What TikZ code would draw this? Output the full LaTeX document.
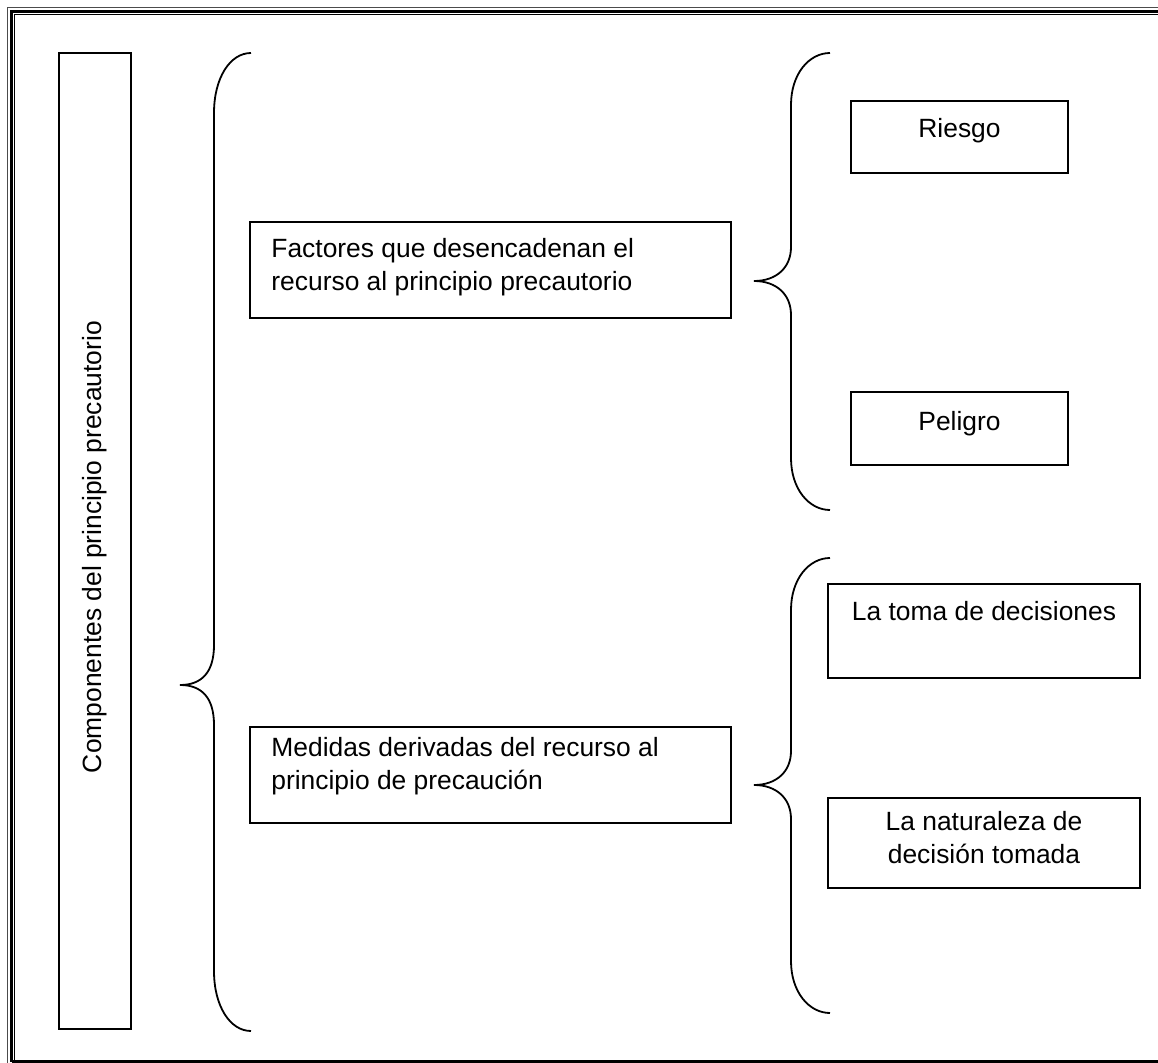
\documentclass[tikz,border=0pt]{standalone}
\usepackage{fontspec}
\setmainfont{Liberation Sans}
\usetikzlibrary{calc,fit}
\begin{document}
\begin{tikzpicture}[x=0.75pt,y=-0.75pt,
  box/.style={draw,line width=1.7*0.75pt,inner sep=0pt,rectangle},
  brace/.style={draw,line width=1.8*0.75pt},
  lbl/.style={inner sep=0pt,font=\fontsize{19.8pt}{24.4pt}\selectfont},
]
\useasboundingbox (0,0) rectangle (1158,1063);
% page border, cut off on the right and at the bottom
\begin{scope}
\clip (0,0) rectangle (1158,1063);
\draw[line width=1.3*0.75pt, black!70] (7.8,1080) -- (7.8,7.8) -- (1180,7.8);
\draw[line width=2.5*0.75pt] (11.5,1061.5) -- (11.5,11.5) -- (1180,11.5);
\draw[line width=1.2*0.75pt] (14.2,1061.5) -- (14.2,14.2) -- (1180,14.2);
\draw[line width=2.5*0.75pt] (11.5,1061.5) -- (1180,1061.5);
\end{scope}

% vertical title box
\node[box,fit={(59,53) (131,1029)}] (comp) {};
\node[lbl,rotate=90] (compt) at (95,547) {Componentes del principio precautorio};

% main brace
\path[brace] (251,53) .. controls (230,53) and (214,78) .. (214,113)
  -- (214,645) .. controls (214,672) and (202,685) .. (180,685)
  .. controls (202,685) and (214,698) .. (214,725)
  -- (214,971) .. controls (214,1006) and (230,1031) .. (251,1031);

% second-level boxes
\node[box,fit={(250,222) (731,318)}] (fact) {};
\node[lbl,anchor=north west,align=left] (factt) at ($(fact.north west)+(22,17)$)
  {Factores que desencadenan el\\recurso al principio precautorio};
\node[box,fit={(250,727) (731,823)}] (med) {};
\node[lbl,anchor=north west,align=left] (medt) at ($(med.north west)+(22,11)$)
  {Medidas derivadas del recurso al\\principio de precaución};

% upper brace
\path[brace] (830,53) .. controls (809,53) and (791,74) .. (791,105)
  -- (791,247) .. controls (791,268) and (776,281) .. (754,281)
  .. controls (776,281) and (791,294) .. (791,315)
  -- (791,458) .. controls (791,489) and (809,510) .. (830,510);

% lower brace
\path[brace] (830,558) .. controls (809,558) and (791,579) .. (791,610)
  -- (791,751) .. controls (791,772) and (776,785) .. (754,785)
  .. controls (776,785) and (791,798) .. (791,819)
  -- (791,961) .. controls (791,992) and (809,1013) .. (830,1013);

% third-level boxes
\node[box,fit={(851,101) (1068,173)}] (ries) {};
\node[lbl,anchor=north] (riest) at ($(ries.north)+(0,18)$) {Riesgo};
\node[box,fit={(851,392) (1068,465)}] (pel) {};
\node[lbl,anchor=north] (pelt) at ($(pel.north)+(0,20)$) {Peligro};
\node[box,fit={(828,584) (1140,678)}] (toma) {};
\node[lbl,anchor=north] (tomat) at ($(toma.north)+(0,18)$) {La toma de decisiones};
\node[box,fit={(828,798) (1140,888)}] (nat) {};
\node[lbl,anchor=north,align=center] (natt) at ($(nat.north)+(0,14)$)
  {La naturaleza de\\decisión tomada};
\end{tikzpicture}
\end{document}
